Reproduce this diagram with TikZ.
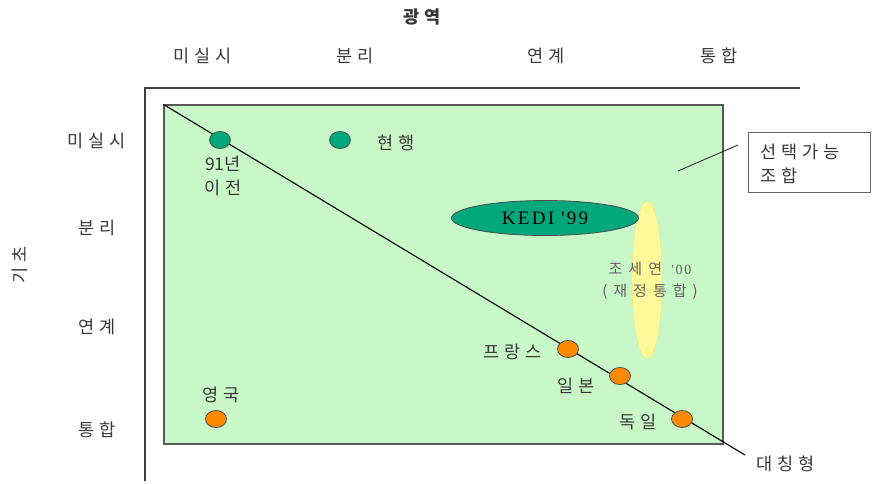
\documentclass[tikz,border=0pt]{standalone}
\usepackage{fontspec}
\usetikzlibrary{shapes.geometric}
\newfontfamily\kr[LetterSpace=28]{Noto Sans CJK KR}
\newfontfamily\krtight{Noto Sans CJK KR}
\newfontfamily\krwide[LetterSpace=40]{Noto Sans CJK KR}
\newfontfamily\serifx[LetterSpace=12]{Liberation Serif}
\definecolor{areagreen}{HTML}{C8F8C8}
\definecolor{teal}{HTML}{00A87C}
\definecolor{orangedot}{HTML}{FF8A00}
\definecolor{paleyellow}{HTML}{FFF99A}
\definecolor{txtgray}{HTML}{383838}
\tikzset{
  lbl/.style={font=\kr\fontsize{17.5}{20}\selectfont, text=txtgray, inner sep=0pt},
  tdot/.style={ellipse, draw=black!70, line width=0.8pt, fill=teal, minimum width=21pt, minimum height=17pt, inner sep=0pt},
  odot/.style={ellipse, draw=black!70, line width=0.8pt, fill=orangedot, minimum width=21pt, minimum height=17pt, inner sep=0pt},
  axisline/.style={draw=black!75, line width=1.3pt},
}
\begin{document}
\begin{tikzpicture}[x=1pt,y=-1pt]
\useasboundingbox (0,0) rectangle (872,483);
% axes
\coordinate (axO) at (145,88);
\coordinate (axR) at (800,88);
\coordinate (axB) at (145,481);
\draw[axisline] (axR) -- (axO) -- (axB);
% green area
\node[draw=black!65, line width=1.3pt, fill=areagreen, minimum width=559pt, minimum height=339pt, inner sep=0pt] (area) at (443.5,274.5) {};
% yellow ellipse
\node[ellipse, fill=paleyellow, draw=paleyellow!80!orange, line width=0.4pt, minimum width=30pt, minimum height=158pt, inner sep=0pt] (cho) at (647,280) {};
% KEDI ellipse
\node[ellipse, fill=teal, draw=black!70, line width=0.8pt, minimum width=187pt, minimum height=35pt, inner sep=0pt, font=\serifx\fontsize{19}{21}\selectfont] (kedi) at (545,218) {KEDI '99};
% diagonal
\coordinate (diagend) at (745,455);
\draw[black, line width=1.1pt] (area.north west) -- (diagend);
% titles
\node[lbl, font=\kr\bfseries\fontsize{17.5}{20}\selectfont] (top) at (422,17) {광역};
\node[lbl, rotate=90] (left) at (20,265) {기초};
% column labels
\node[lbl] (c1) at (203,56) {미실시};
\node[lbl] (c2) at (355,56) {분리};
\node[lbl] (c3) at (546,56) {연계};
\node[lbl] (c4) at (719,56) {통합};
% row labels
\node[lbl] (r1) at (97,141) {미실시};
\node[lbl] (r2) at (97,228) {분리};
\node[lbl] (r3) at (97,327) {연계};
\node[lbl] (r4) at (97,430) {통합};
% dots
\node[tdot] (d91) at (220,140) {};
\node[lbl, align=center, font=\kr\fontsize{17.5}{24}\selectfont] (l91) at (223,176) {{\krtight 91}년\\이전};
\node[tdot] (dnow) at (340,140) {};
\node[lbl] (lnow) at (396,143) {현행};
\node[odot] (dfr) at (568,349) {};
\node[lbl] (lfr) at (513,352) {프랑스};
\node[odot] (djp) at (620,376) {};
\node[lbl] (ljp) at (576,386) {일본};
\node[odot] (dde) at (682,419) {};
\node[lbl] (lde) at (638,422) {독일};
\node[odot] (duk) at (216,419) {};
\node[lbl] (luk) at (221,395) {영국};
\node[lbl] (lsym) at (786,464) {대칭형};
% cho label
\node[lbl, align=center, font=\krwide\fontsize{15}{22}\selectfont, text=black!62] (lcho) at (650,281) {조세연 {\serifx\fontsize{14}{22}\selectfont '00}\\(재정통합)};
% callout
\node[draw=black!60, line width=0.8pt, fill=white, minimum width=122pt, minimum height=60pt, inner sep=0pt] (cbox) at (809,162) {};
\node[lbl, align=left, anchor=west, font=\kr\fontsize{17.5}{24}\selectfont] (ctext) at (760,164) {선택가능\\조합};
\coordinate (cpt) at (678,171);
\coordinate (cend) at (738,145);
\draw[black!80, line width=0.9pt] (cpt) -- (cend);
\end{tikzpicture}
\end{document}
